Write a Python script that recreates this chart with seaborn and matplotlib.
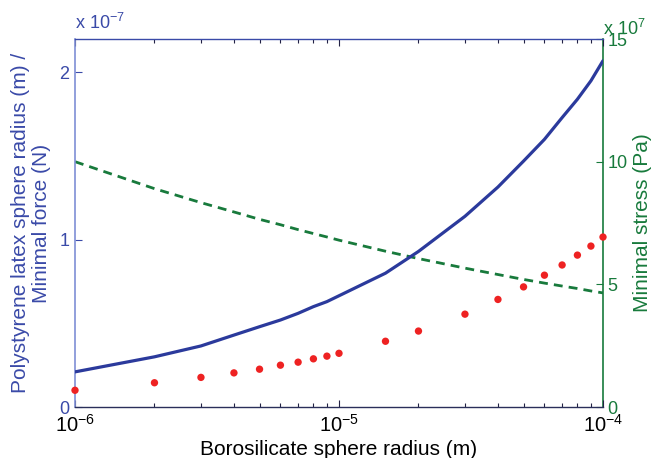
import numpy as np
import pandas as pd
import matplotlib
matplotlib.use("Agg")
import matplotlib.pyplot as plt
import seaborn as sns
from matplotlib.ticker import LogLocator, NullFormatter, FixedLocator

sns.set_style("white")
plt.rcParams['font.family'] = ['Liberation Sans', 'DejaVu Sans']
plt.rcParams['mathtext.fontset'] = 'custom'
plt.rcParams['mathtext.rm'] = 'Liberation Sans'
plt.rcParams['mathtext.it'] = 'Liberation Sans'

# Borosilicate sphere radius (m)
boro_radius = [1e-6, 2e-6, 3e-6, 4e-6, 5e-6, 6e-6, 7e-6, 8e-6, 9e-6, 1e-5,
               1.5e-5, 2e-5, 3e-5, 4e-5, 5e-5, 6e-5, 7e-5, 8e-5, 9e-5, 1e-4]
# Polystyrene latex sphere radius (x 1e-7 m)
latex_radius = [0.21, 0.30, 0.365, 0.43, 0.48, 0.52, 0.56, 0.60, 0.63, 0.665,
                0.80, 0.93, 1.14, 1.315, 1.47, 1.60, 1.73, 1.84, 1.95, 2.07]
# Minimal force (x 1e-7 N)
min_force = [0.10, 0.145, 0.177, 0.204, 0.226, 0.25, 0.268, 0.288, 0.304, 0.321,
             0.393, 0.454, 0.555, 0.643, 0.718, 0.788, 0.849, 0.908, 0.962, 1.016]
# Minimal stress (x 1e7 Pa)
min_stress = [10.0, 8.9, 8.33, 7.95, 7.65, 7.43, 7.23, 7.07, 6.93, 6.8,
              6.35, 6.05, 5.66, 5.4, 5.2, 5.05, 4.93, 4.83, 4.73, 4.65]

df = pd.DataFrame({"R": boro_radius, "latex": latex_radius,
                   "force": min_force, "stress": min_stress})

BLUE = "#2b3a9c"
BLUE_AX = "#3a4aa8"
GREEN = "#187a3c"
RED = "#ee2222"

fig = plt.figure(figsize=(6.51, 4.58), dpi=100)
ax = fig.add_axes([75/651, 1-407/458, (603-75)/651, (407-39)/458])
ax2 = ax.twinx()

sns.lineplot(data=df, x="R", y="latex", ax=ax, color=BLUE, lw=2.3, zorder=3)
sns.scatterplot(data=df, x="R", y="force", ax=ax, color=RED, s=28,
                edgecolor="none", zorder=4, clip_on=False)
sns.lineplot(data=df, x="R", y="stress", ax=ax2, color=GREEN, lw=2.0,
             dashes=False, zorder=3)
ax2.lines[0].set_dashes([3.2, 2.2])

ax.set_xscale("log")
ax.set_xlim(1e-6, 1e-4)
ax.set_ylim(0, 2.2)
ax2.set_ylim(0, 15)

ax.set_yticks([0, 1, 2])
ax.set_yticklabels(["0", "1", "2"])
ax2.set_yticks([0, 5, 10, 15])
ax2.set_yticklabels(["0", "5", "10", "15"])

ax.xaxis.set_major_locator(FixedLocator([1e-6, 1e-5, 1e-4]))
ax.set_xticklabels([r"$10^{-6}$", r"$10^{-5}$", r"$10^{-4}$"])
ax.xaxis.set_minor_locator(LogLocator(base=10, subs=np.arange(2, 10), numticks=20))
ax.xaxis.set_minor_formatter(NullFormatter())

fs = 13
ax.tick_params(axis="x", which="both", direction="in", top=True, bottom=True,
               labelsize=14.5, colors="#222244", labelcolor="black", pad=5)
ax.tick_params(axis="x", which="major", length=5, width=0.8)
ax.tick_params(axis="x", which="minor", length=3, width=0.8)
ax.tick_params(axis="y", direction="in", length=5, width=0.8, colors=BLUE_AX,
               labelcolor=BLUE_AX, labelsize=fs, left=True, right=False, pad=4)
ax2.tick_params(axis="y", direction="in", length=5, width=0.8, colors=GREEN,
                labelcolor=GREEN, labelsize=fs, pad=3)
ax2.tick_params(axis="x", which="both", top=False, bottom=False)

for sp in ax2.spines.values():
    sp.set_visible(False)
ax2.spines["right"].set_visible(True)
ax2.spines["right"].set_color(GREEN)
ax2.spines["right"].set_linewidth(1.2)
ax.spines["left"].set_color("#7f8fd6")
ax.spines["left"].set_linewidth(1.2)
ax.spines["top"].set_color(BLUE_AX)
ax.spines["top"].set_linewidth(1.0)
ax.spines["bottom"].set_color("#2a2f5a")
ax.spines["bottom"].set_linewidth(1.0)
ax.spines["right"].set_visible(False)

ax.set_xlabel("Borosilicate sphere radius (m)", fontsize=15, color="black", labelpad=3)
ax.set_ylabel("Polystyrene latex sphere radius (m) /\nMinimal force (N)",
              fontsize=15, color=BLUE_AX, labelpad=6, linespacing=1.1)
ax2.set_ylabel("Minimal stress (Pa)", fontsize=15, color=GREEN, labelpad=4)

ax.text(0.0, 1.015, r"x $10^{-7}$", transform=ax.transAxes, fontsize=fs,
        color=BLUE_AX, ha="left", va="bottom")
ax2.text(1.0, 1.0, r"x $10^{7}$", transform=ax2.transAxes, fontsize=fs,
         color=GREEN, ha="left", va="bottom")

ax.set_zorder(ax2.get_zorder() + 1)
ax.patch.set_visible(False)

fig.savefig("out.png", dpi=100)
